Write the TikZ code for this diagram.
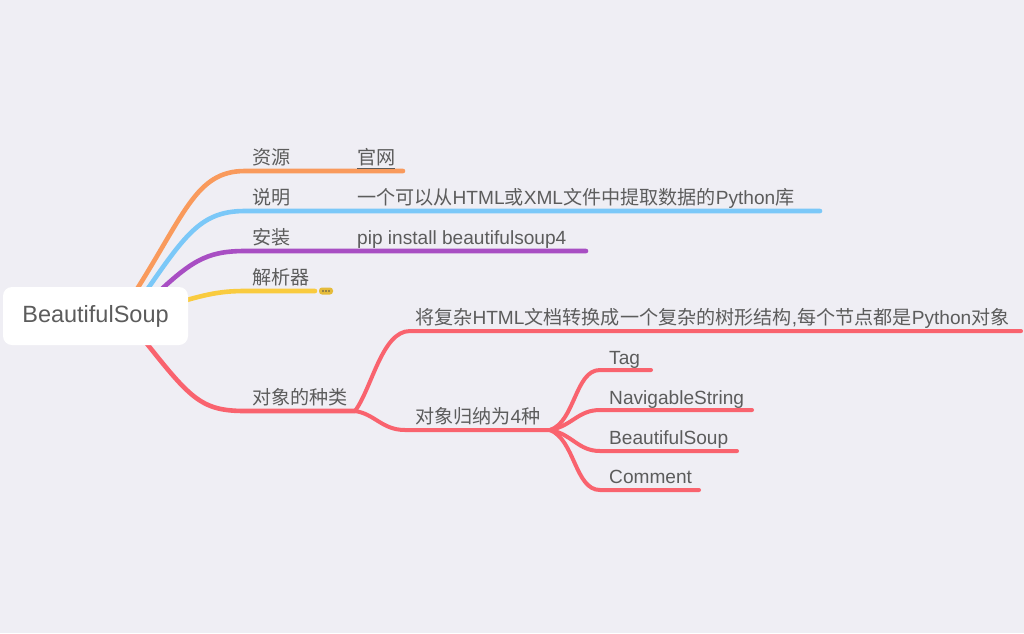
\documentclass[tikz,border=0pt]{standalone}
\usepackage{fontspec}
\setmainfont{Liberation Sans}
\newfontfamily\cjk{Noto Sans CJK SC}
\definecolor{bg}{HTML}{EFEEF4}
\definecolor{txt}{HTML}{5C5C5C}
\definecolor{corange}{HTML}{F99A5C}
\definecolor{cblue}{HTML}{7BC8F8}
\definecolor{cpurple}{HTML}{A84EC3}
\definecolor{cyellow}{HTML}{F9CB3F}
\definecolor{cred}{HTML}{F9636E}
\tikzset{
  branch/.style={line width=4.6pt, line cap=round},
  subbranch/.style={line width=4pt, line cap=round},
  lbl/.style={anchor=base west, inner sep=0pt, text=txt, font=\fontsize{19.1}{22}\selectfont},
  rootbox/.style={fill=white, rounded corners=9pt, minimum width=185pt, minimum height=58pt, inner sep=0pt, text=txt, font=\fontsize{23.5}{26}\selectfont}
}
\begin{document}
\begin{tikzpicture}[x=1pt,y=-1pt]
\useasboundingbox (0,0) rectangle (1024,633);
\fill[bg] (0,0) rectangle (1024,633);
% anchor coordinates
\coordinate (o0) at (130,300);
\coordinate (o1) at (245,171);
\coordinate (o2) at (403,171);
\coordinate (b0) at (140,300);
\coordinate (b1) at (245,211);
\coordinate (b2) at (820,211);
\coordinate (p0) at (150,300);
\coordinate (p1) at (245,251);
\coordinate (p2) at (586,251);
\coordinate (y0) at (180,302);
\coordinate (y1) at (245,291);
\coordinate (y2) at (315,291);
\coordinate (r0) at (140,335);
\coordinate (r1) at (245,411);
\coordinate (rs) at (355,411);
\coordinate (u1) at (410,331);
\coordinate (u2) at (1021,331);
\coordinate (l1) at (405,430);
\coordinate (ls) at (550,430);
\coordinate (t1) at (600,370);
\coordinate (t2) at (651,370);
\coordinate (n1) at (600,410);
\coordinate (n2) at (752,410);
\coordinate (s1) at (600,451);
\coordinate (s2) at (737,451);
\coordinate (c1) at (600,490);
\coordinate (c2) at (699,490);
% main branches
\draw[branch, corange] (o0) .. controls (185,215) and (195,171) .. (o1) -- (o2);
\draw[branch, cblue] (b0) .. controls (185,235) and (200,211) .. (b1) -- (b2);
\draw[branch, cpurple] (p0) .. controls (190,262) and (205,251) .. (p1) -- (p2);
\draw[branch, cyellow] (y0) .. controls (210,293) and (225,291) .. (y1) -- (y2);
\draw[branch, cred] (r0) .. controls (190,398) and (200,411) .. (r1) -- (rs);
% red sub-branches
\draw[subbranch, cred] (rs) .. controls (372,388) and (382,331) .. (u1) -- (u2);
\draw[subbranch, cred] (rs) .. controls (375,414) and (382,430) .. (l1) -- (ls);
\draw[subbranch, cred] (ls) .. controls (575,422) and (575,370) .. (t1) -- (t2);
\draw[subbranch, cred] (ls) .. controls (572,426) and (578,410) .. (n1) -- (n2);
\draw[subbranch, cred] (ls) .. controls (572,434) and (578,451) .. (s1) -- (s2);
\draw[subbranch, cred] (ls) .. controls (575,440) and (575,490) .. (c1) -- (c2);
% collapsed marker
\node[fill=cyellow!92!black, rounded corners=3pt, minimum width=14pt, minimum height=7pt, inner sep=0pt] (more) at (326,291) {};
\foreach \dx in {-3,0,3} \fill[black!70] ([xshift=\dx pt]more.center) circle (0.9pt);
% root
\node[rootbox] (root) at (95.5,316) {\raisebox{-2pt}{BeautifulSoup}};
% labels
\node[lbl] (l_res) at (252,164) {\cjk 资源};
\node[lbl] (l_web) at (357,164) {\cjk 官网};
\draw[txt, line width=1.3pt] (l_web.south west) ++(0,2.5) -- ++(38,0);
\node[lbl] (l_desc) at (252,204) {\cjk 说明};
\node[lbl] (l_desc2) at (357,204) {{\cjk 一个可以从}HTML{\cjk 或}XML{\cjk 文件中提取数据的}Python{\cjk 库}};
\node[lbl] (l_inst) at (252,244) {\cjk 安装};
\node[lbl] (l_inst2) at (357,244) {pip install beautifulsoup4};
\node[lbl] (l_pars) at (252,284) {\cjk 解析器};
\node[lbl] (l_obj) at (252,404) {\cjk 对象的种类};
\node[lbl] (l_tree) at (415,324) {{\cjk 将复杂}HTML{\cjk 文档转换成一个复杂的树形结构},{\cjk 每个节点都是}Python{\cjk 对象}};
\node[lbl] (l_four) at (415,423) {{\cjk 对象归纳为}4{\cjk 种}};
\node[lbl] (l_tag) at (609,364) {Tag};
\node[lbl] (l_nav) at (609,404) {NavigableString};
\node[lbl] (l_bs) at (609,444) {BeautifulSoup};
\node[lbl] (l_com) at (609,483) {Comment};
\end{tikzpicture}
\end{document}
